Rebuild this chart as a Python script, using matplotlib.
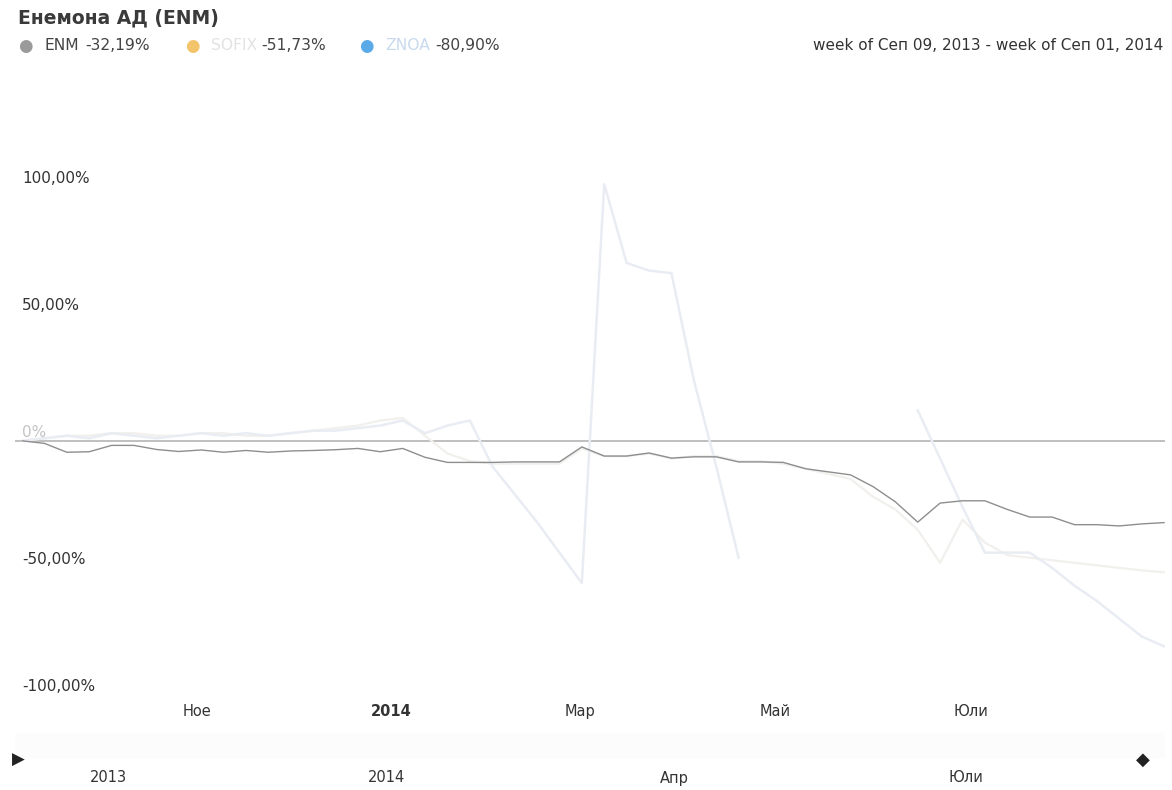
import matplotlib
matplotlib.use("Agg")
import matplotlib.pyplot as plt
import matplotlib.transforms as mtransforms
import numpy as np
import pandas as pd

plt.rcParams['font.family'] = ['DejaVu Sans']

# weekly points, week of Sep 09 2013 .. week of Sep 01 2014
weeks = pd.date_range('2013-09-09', periods=52, freq='7D')

# % change vs. first week
enm = [0, -1, -4.5, -4.3, -1.8, -1.8, -3.4, -4.2, -3.6, -4.5,
       -3.8, -4.5, -4.0, -3.8, -3.5, -3.0, -4.3, -3.0, -6.5, -8.5,
       -8.5, -8.5, -8.3, -8.3, -8.3, -2.4, -6.0, -6.0, -4.8, -6.8,
       -6.3, -6.3, -8.3, -8.3, -8.5, -11.0, -12.2, -13.4, -18.0, -24.0,
       -32.0, -24.5, -23.6, -23.6, -27.0, -30.0, -30.0, -33.0, -33.0, -33.5,
       -32.7, -32.19]
sofix = [0, 1, 2, 2, 3, 3, 2, 2, 3, 3,
         2, 2, 3, 4, 5, 6, 8, 9, 2, -5,
         -8, -9, -9, -9, -9, -3, -6, -6, -5, -7,
         -6, -6, -8, -8, -9, -11, -13, -15, -22, -27,
         -35, -48, -31, -40, -45, -46, -47, -48, -49, -50,
         -51, -51.73]
znoa = [0, 1, 2, 1, 3, 2, 1, 2, 3, 2,
        3, 2, 3, 4, 4, 5, 6, 8, 3, 6,
        8, -10, -21, -32, -44, -56, 101, 70, 67, 66,
        24, -10, -46, np.nan, np.nan, np.nan, np.nan, np.nan, np.nan, np.nan,
        12, -7, -26, -44, -44, -44, -50, -57, -63, -70,
        -77, -80.9]

names = ['ENM', 'SOFIX', 'ZNOA']
last_txt = ['-32,19%', '-51,73%', '-80,90%']

y_ticks = [100, 50, 0, -50, -100]
y_labels = ['100,00%', '50,00%', '0%', '-50,00%', '-100,00%']

x_ticks = pd.to_datetime(['2013-11-01', '2014-01-01', '2014-03-01', '2014-05-01', '2014-07-01'])
x_labels = ['Ное', '2014', 'Мар', 'Май', 'Юли']

nav_ticks = pd.to_datetime(['2013-10-06', '2014-01-01', '2014-04-01', '2014-07-01'])
nav_labels = ['2013', '2014', 'Апр', 'Юли']

W, H = 1172, 790
fig = plt.figure(figsize=(W / 100, H / 100), dpi=100)
fig.patch.set_facecolor('white')

ax = fig.add_axes([15 / W, (H - 700) / H, 1150 / W, 620 / H])
ax.set_facecolor('white')
for s in ax.spines.values():
    s.set_visible(False)

x0 = weeks[0] - pd.Timedelta(days=2.2)
x1 = weeks[-1] + pd.Timedelta(days=0.3)
ax.set_xlim(x0, x1)
ax.set_ylim(-102, 142)

ax.axhline(0, color='#b4b4b4', lw=1.2, zorder=1)

# faint comparison series
ax.plot(weeks, sofix, color='#f2f0ed', lw=1.6, zorder=2)
ax.plot(weeks, znoa, color='#e9edf3', lw=1.8, zorder=2)
ax.plot(weeks, enm, color='#8e8e8e', lw=1.0, zorder=3)

# y labels sit inside the plot, just above their level
ax.set_yticks([])
ytr = mtransforms.blended_transform_factory(ax.transAxes, ax.transData)
for v, lab in zip(y_ticks, y_labels):
    c = '#c4c4c4' if v == 0 else '#333333'
    ax.text(0.006, v + 3.2, lab, transform=ytr, ha='left', va='center',
            fontsize=11, color=c)

ax.set_xticks(x_ticks)
ax.set_xticklabels(x_labels)
ax.tick_params(axis='x', length=0, pad=3, labelsize=10.5, labelcolor='#333333')
off = mtransforms.ScaledTranslation(5 / 100, 0, fig.dpi_scale_trans)
for t in ax.get_xticklabels():
    t.set_transform(t.get_transform() + off)
    if t.get_text() == '2014':
        t.set_fontweight('bold')

# navigator strip
nav = fig.add_axes([15 / W, 0, 1150 / W, 60 / H])
nav.set_xlim(x0, x1)
nav.set_ylim(0, 1)
nav.axis('off')
nav.axhspan(0.55, 0.95, color='#fcfcfc', zorder=0)
for d, lab in zip(nav_ticks, nav_labels):
    nav.text(d, 0.2, lab, ha='center', va='center', fontsize=10.5, color='#333333')
fig.text(18 / W, 1 - 760 / H, '▶', ha='center', va='center', fontsize=12,
         color='#222222')
fig.text(1143 / W, 1 - 760 / H, '◆', ha='center', va='center', fontsize=13,
         color='#222222')

# header
fig.text(18 / W, 1 - 18 / H, 'Енемона АД (ENM)', ha='left', va='center',
         fontsize=13.5, fontweight='bold', color='#3a3a3a')

icon_x = [25, 192, 366]
icon_c = ['#9a9a9a', '#f3c46a', '#5aaae8']
name_c = ['#444444', '#e2e2e2', '#c9d9ef']
name_x = [44, 211, 385]
pct_x = [85, 261, 435]
for ix, ic, nm, nc, nx, px, pt in zip(icon_x, icon_c, names, name_c, name_x, pct_x, last_txt):
    fig.text(ix / W, 1 - 46 / H, '●', ha='center', va='center', fontsize=12,
             color=ic)
    fig.text(nx / W, 1 - 46 / H, nm, ha='left', va='center',
             fontsize=11.2, color=nc)
    fig.text(px / W, 1 - 46 / H, pt, ha='left', va='center', fontsize=11.2,
             color='#444444')

fig.text(1163 / W, 1 - 46 / H, 'week of Сеп 09, 2013 - week of Сеп 01, 2014',
         ha='right', va='center', fontsize=11, color='#333333')

fig.savefig('out.png', dpi=100, facecolor='white')
